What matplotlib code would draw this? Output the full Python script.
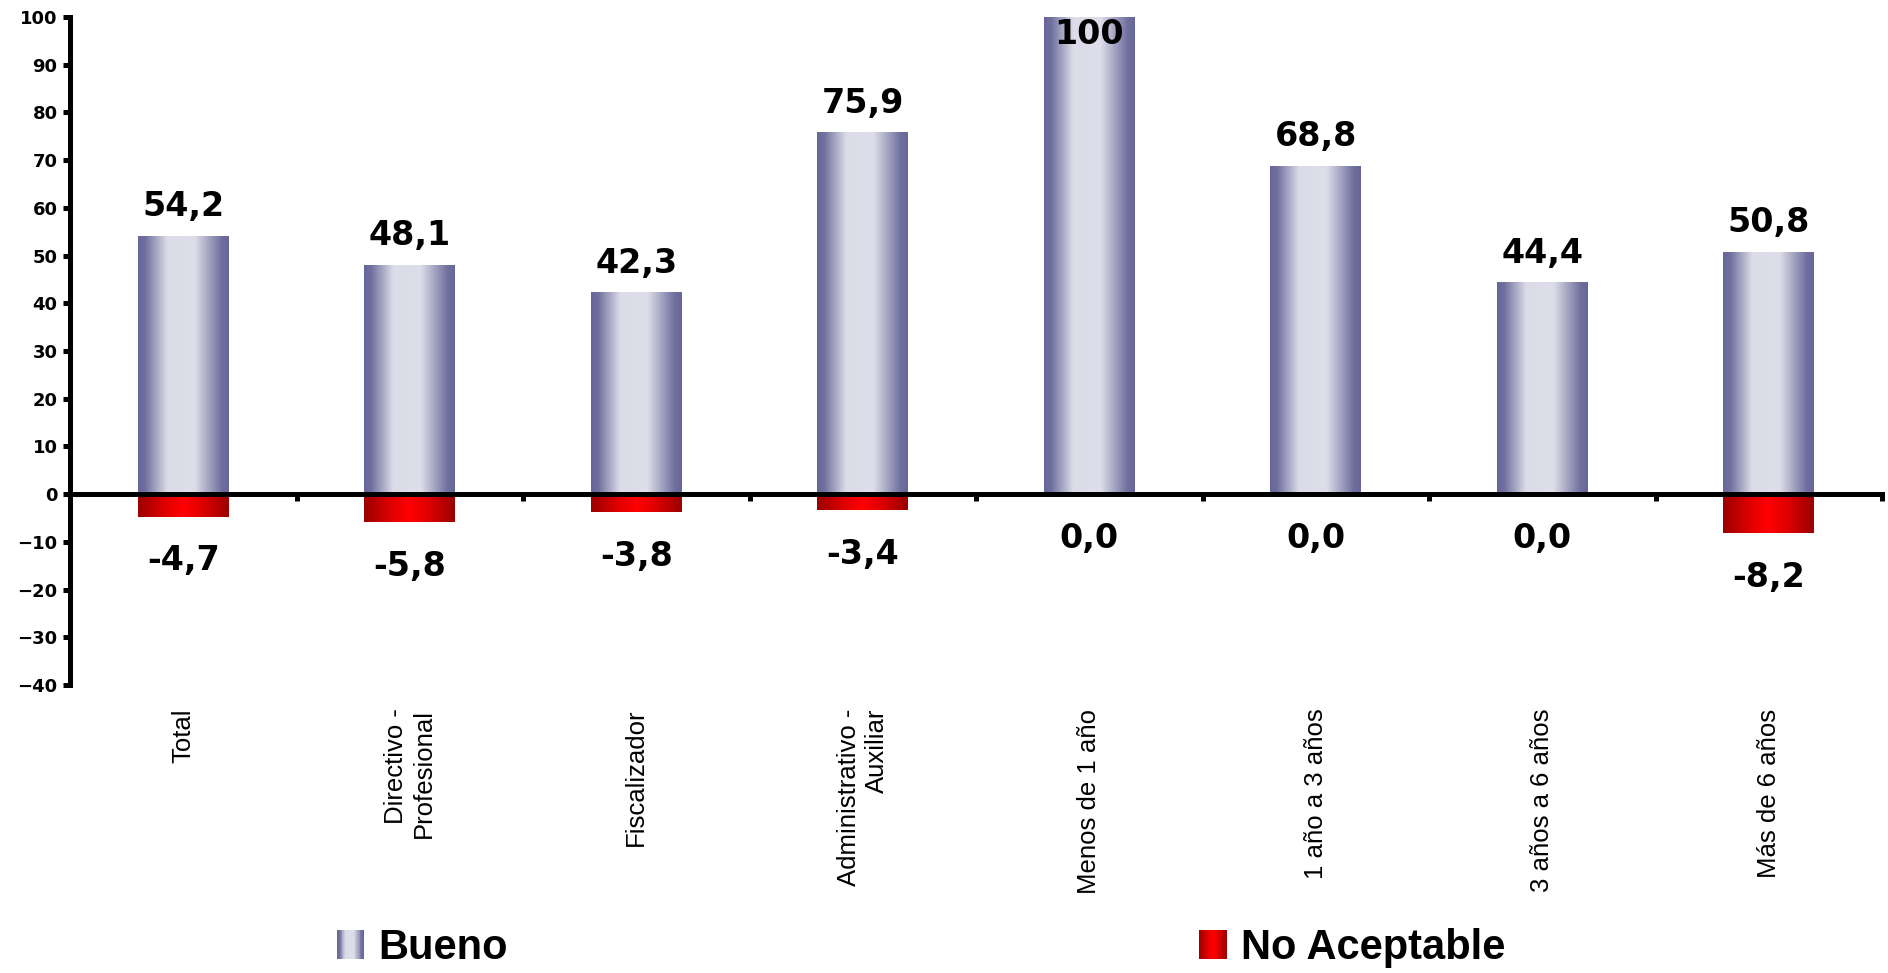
import numpy as np
import matplotlib
matplotlib.use("Agg")
import matplotlib.pyplot as plt
from matplotlib.colors import LinearSegmentedColormap
from matplotlib.legend_handler import HandlerBase
from matplotlib.patches import Patch, Rectangle

# data
categories = [
    "Total",
    "Directivo -\nProfesional",
    "Fiscalizador",
    "Administrativo -\nAuxiliar",
    "Menos de 1 año",
    "1 año a 3 años",
    "3 años a 6 años",
    "Más de 6 años",
]
bueno = [54.2, 48.1, 42.3, 75.9, 100, 68.8, 44.4, 50.8]
no_aceptable = [-4.7, -5.8, -3.8, -3.4, 0.0, 0.0, 0.0, -8.2]
series_names = ["Bueno", "No Aceptable"]

blue_cmap = LinearSegmentedColormap.from_list(
    "blue_bar",
    [(0.0, "#66669a"), (0.08, "#70709e"), (0.32, "#dcdce8"),
     (0.62, "#dedeea"), (0.92, "#70709e"), (1.0, "#66669a")],
)
red_cmap = LinearSegmentedColormap.from_list(
    "red_bar",
    [(0.0, "#9a0000"), (0.3, "#e00000"), (0.5, "#ff0000"),
     (0.7, "#e00000"), (1.0, "#9a0000")],
)


class GradientHandler(HandlerBase):
    def __init__(self, cmap, n=30):
        super().__init__()
        self.cmap = cmap
        self.n = n

    def create_artists(self, legend, orig_handle, xdescent, ydescent,
                       width, height, fontsize, trans):
        arts = []
        step = width / self.n
        for i in range(self.n):
            r = Rectangle((-xdescent + i * step, -ydescent), step * 1.05, height,
                          facecolor=self.cmap((i + 0.5) / self.n),
                          edgecolor="none", transform=trans)
            arts.append(r)
        return arts


fig = plt.figure(figsize=(18.88, 9.73), dpi=100)
ax = fig.add_axes([70 / 1888, 1 - 685 / 973, (1882 - 70) / 1888, (685 - 17) / 973])

x = np.arange(len(categories))
width = 0.4
grad = np.linspace(0, 1, 256).reshape(1, -1)

for vals, cmap in [(bueno, blue_cmap), (no_aceptable, red_cmap)]:
    bars = ax.bar(x, vals, width, facecolor="none", edgecolor="none", zorder=1)
    for b in bars:
        x0, y0 = b.get_x(), b.get_y()
        w, h = b.get_width(), b.get_height()
        if h == 0:
            continue
        im = ax.imshow(grad, cmap=cmap, extent=[x0, x0 + w, min(y0, y0 + h), max(y0, y0 + h)],
                       aspect="auto", interpolation="bilinear", zorder=1)
        im.set_clip_path(b)

ax.set_xlim(-0.5, len(categories) - 0.5)
ax.set_ylim(-40, 100)
ax.set_yticks(np.arange(-40, 101, 10))


def fmt(v):
    if v >= 100:
        return f"{v:.0f}"
    return f"{v:.1f}".replace(".", ",")


label_font = dict(fontsize=24, fontweight="bold", family="DejaVu Sans", color="black")
for xi, v in zip(x, bueno):
    if v >= 100:
        ax.annotate(fmt(v), (xi, v), xytext=(0, -1), textcoords="offset points",
                    ha="center", va="top", zorder=5, **label_font)
    else:
        ax.annotate(fmt(v), (xi, v), xytext=(0, 14), textcoords="offset points",
                    ha="center", va="baseline", zorder=5, **label_font)
for xi, v in zip(x, no_aceptable):
    ax.annotate(fmt(v), (xi, v), xytext=(0, -20), textcoords="offset points",
                ha="center", va="top", zorder=5, **label_font)

# axes styling
for s in ["top", "right"]:
    ax.spines[s].set_visible(False)
ax.spines["bottom"].set_position(("data", 0))
ax.spines["bottom"].set_linewidth(3.6)
ax.spines["left"].set_linewidth(3.6)
ax.set_xticks(np.arange(-0.5, len(categories), 1))
ax.tick_params(axis="x", length=5, width=3.6, labelbottom=False)
ax.tick_params(axis="y", length=5, width=3.6, pad=4)
for lab in ax.get_yticklabels():
    lab.set_fontsize(13)
    lab.set_fontweight("bold")
    lab.set_family("DejaVu Sans")

sec = ax.secondary_xaxis("bottom")
sec.set_xticks(x, labels=categories)
sec.spines["bottom"].set_visible(False)
sec.tick_params(axis="x", length=0, pad=17, labelrotation=90)
for lab in sec.get_xticklabels():
    lab.set_family(["Liberation Sans Narrow", "Liberation Sans"])
    lab.set_fontsize(18.5)
    lab.set_multialignment("right")
    lab.set_va("top")

# legend
h_b = Patch(label=series_names[0])
h_r = Patch(label=series_names[1])
fig.legend([h_b, h_r], series_names, loc="center left",
           bbox_to_anchor=(337 / 1888, 1 - 948 / 973), ncol=2, frameon=False,
           prop=dict(family="Liberation Sans", weight="bold", size=30),
           handlelength=0.65, handleheight=0.72, handletextpad=0.34,
           columnspacing=16.6, borderpad=0, borderaxespad=0,
           handler_map={h_b: GradientHandler(blue_cmap), h_r: GradientHandler(red_cmap)})

fig.savefig("out.png", dpi=100)
